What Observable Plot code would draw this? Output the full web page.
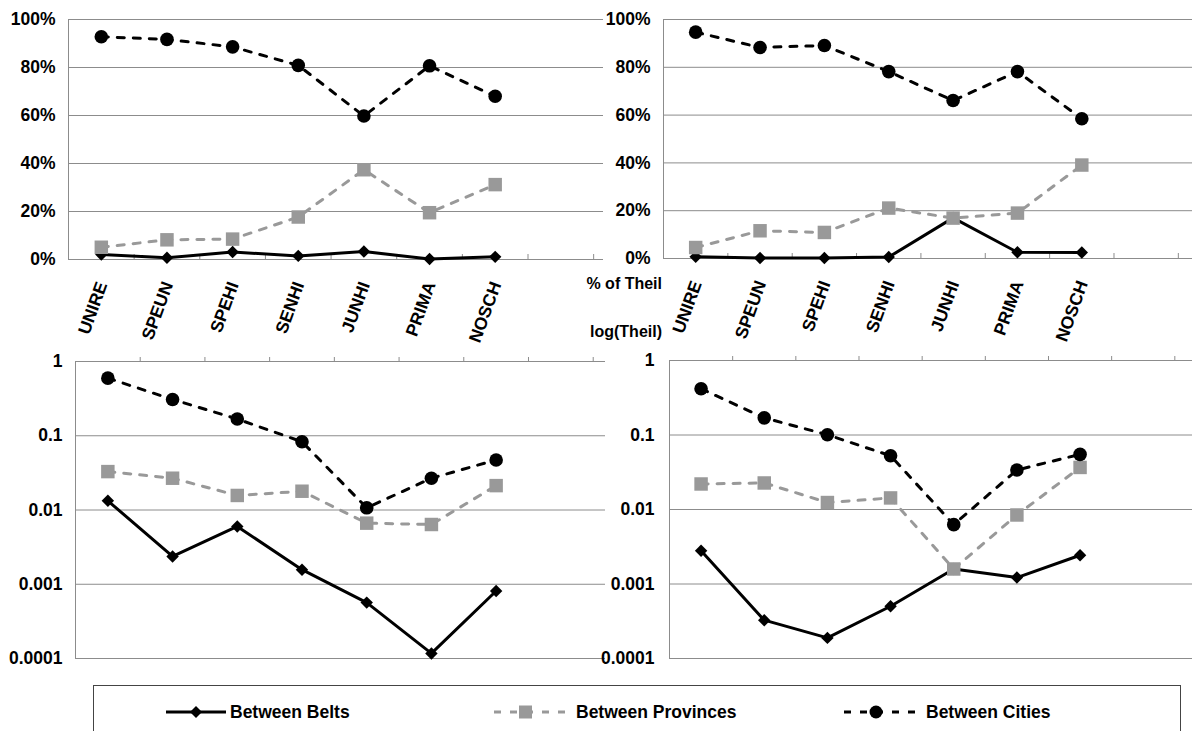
<!DOCTYPE html>
<html><head><meta charset="utf-8">
<script src="https://cdn.jsdelivr.net/npm/d3@7"></script>
<script src="https://cdn.jsdelivr.net/npm/@observablehq/plot@0.6"></script>
<style>
body{margin:0;background:#fff;font-family:"Liberation Sans",Arial,sans-serif;}
#wrap{position:relative;width:1192px;height:731px;overflow:hidden;background:#fff;}
.panel{position:absolute;}
.lab{position:absolute;font-weight:bold;font-size:16px;color:#000;text-align:right;white-space:nowrap;}
#legend{position:absolute;left:93px;top:685px;width:1088px;height:60px;border:1px solid #444;border-bottom:none;box-sizing:border-box;}
.item{position:absolute;top:0;height:52px;display:flex;align-items:center;font-weight:bold;font-size:17.5px;white-space:nowrap;}
</style></head><body><div id="wrap"></div>
<script>
const categories = ["UNIRE","SPEUN","SPEHI","SENHI","JUNHI","PRIMA","NOSCH"];
const seriesNames = ["Between Belts","Between Provinces","Between Cities"];
// % of Theil (top panels)
const pctLeftBelts = [2.1,0.7,3.1,1.5,3.3,0.2,1.1];
const pctLeftProvinces = [5.1,8.2,8.5,17.7,37.4,19.5,31.2];
const pctLeftCities = [92.8,91.7,88.6,80.9,59.8,80.7,68.0];
const pctRightBelts = [0.7,0.2,0.2,0.6,17.0,2.6,2.5];
const pctRightProvinces = [4.6,11.6,10.9,21.1,16.9,19.0,39.1];
const pctRightCities = [94.7,88.3,89.1,78.2,66.1,78.2,58.5];
// log(Theil) (bottom panels)
const logLeftBelts = [0.0133,0.00237,0.0060,0.00157,0.000566,0.000117,0.00081];
const logLeftProvinces = [0.0329,0.0268,0.0157,0.0179,0.00665,0.00638,0.0213];
const logLeftCities = [0.597,0.308,0.168,0.083,0.0107,0.0268,0.0472];
const logRightBelts = [0.0028,0.000327,0.000189,0.000503,0.00159,0.00122,0.00243];
const logRightProvinces = [0.022,0.0227,0.0124,0.0143,0.00159,0.00844,0.0367];
const logRightCities = [0.417,0.170,0.1007,0.0527,0.00626,0.0339,0.055];
const pctTicks = [0,20,40,60,80,100];
const pctTickLabels = ["0%","20%","40%","60%","80%","100%"];
const logTicks = [0.0001,0.001,0.01,0.1,1];
const logTickLabels = ["0.0001","0.001","0.01","0.1","1"];

const styles = [
  {stroke:"#000", dash:null, symbol:"diamond2", r:5.6, fill:"#000"},
  {stroke:"#999", dash:"7,9", symbol:"square", r:7.6, fill:"#999"},
  {stroke:"#000", dash:"7,9", symbol:"circle", r:6.8, fill:"#000"}
];
const boundaries = [0.5,1.5,2.5,3.5,4.5,5.5,6.5,7.5];

const wrap = document.getElementById("wrap");

function panel(o){
  const isLog = o.log;
  const ticks = isLog ? logTicks : pctTicks;
  const labels = isLog ? logTickLabels : pctTickLabels;
  const marks = [];
  marks.push(Plot.ruleY(ticks, {stroke:"#8c8c8c", strokeWidth:1}));
  marks.push(Plot.ruleX([-0.5], {stroke:"#8c8c8c", strokeWidth:1}));
  marks.push(Plot.axisY({ticks, tickSize:0, tickPadding:o.pad, label:null, tickFormat:(d)=>labels[ticks.indexOf(d)], fill:"#000"}));
  if (o.topAxis) {
    marks.push(Plot.axisX({anchor:"top", ticks:boundaries.filter(b=>b<o.xmax), tickSize:5, label:null, tickFormat:()=>"", stroke:"#8c8c8c"}));
  } else {
    marks.push(Plot.axisX({anchor:"bottom", ticks:boundaries.filter(b=>b<o.xmax), tickSize:5, dy:-5, label:null, tickFormat:()=>"", stroke:"#8c8c8c"}));
    marks.push(Plot.text(categories.map((c,i)=>({c,i})), {x:"i", frameAnchor:"bottom", text:"c", rotate:-70, textAnchor:"end", lineAnchor:"middle", dy:23, dx:1, fontSize:17.5, fontWeight:"bold", fill:"#000"}));
  }
  o.series.forEach((vals, k) => {
    const st = styles[k];
    const data = vals.map((v,i)=>({i, v}));
    marks.push(Plot.line(data, {x:"i", y:"v", stroke:st.stroke, strokeWidth:3, strokeDasharray:st.dash, strokeLinejoin:"round"}));
    marks.push(Plot.dot(data, {x:"i", y:"v", symbol:st.symbol, r:st.r, fill:st.fill, stroke:"none"}));
  });
  const chart = Plot.plot({
    width:o.width, height:o.height,
    marginLeft:o.ml, marginRight:o.mr, marginTop:o.mt, marginBottom:o.mb,
    x:{domain:[-0.5, o.xmax], label:null},
    y: isLog ? {type:"log", domain:[0.0001,1], label:null} : {domain:[0,100], label:null},
    style:{background:"transparent", fontFamily:"'Liberation Sans', Arial, sans-serif", fontSize:"17.5px", fontWeight:"bold", overflow:"visible"},
    marks
  });
  chart.classList.add("panel");
  chart.style.left = o.left + "px";
  chart.style.top = o.top + "px";
  wrap.appendChild(chart);
}

panel({series:[pctLeftBelts,pctLeftProvinces,pctLeftCities], log:false, left:0, top:0, width:610, height:350, ml:68, mr:7, mt:19, mb:91, xmax:7.65, pad:13});
panel({series:[pctRightBelts,pctRightProvinces,pctRightCities], log:false, left:590, top:0, width:602, height:350, ml:73, mr:0, mt:19, mb:92, xmax:7.72, pad:13});
panel({series:[logLeftBelts,logLeftProvinces,logLeftCities], log:true, left:0, top:340, width:610, height:330, ml:75, mr:5, mt:21, mb:12, xmax:7.69, pad:13, topAxis:true});
panel({series:[logRightBelts,logRightProvinces,logRightCities], log:true, left:590, top:340, width:602, height:330, ml:79, mr:0, mt:20, mb:12, xmax:7.78, pad:15, topAxis:true});

// side labels
const l1 = document.createElement("div"); l1.className="lab"; l1.textContent="% of Theil";
l1.style.left="560px"; l1.style.width="102px"; l1.style.top="275px"; wrap.appendChild(l1);
const l2 = document.createElement("div"); l2.className="lab"; l2.textContent="log(Theil)";
l2.style.left="560px"; l2.style.width="102px"; l2.style.top="323px"; wrap.appendChild(l2);

// legend
const legend = document.createElement("div"); legend.id="legend"; wrap.appendChild(legend);
const items = [
  {left:70, svg:`<svg width="64" height="16"><line x1="2" y1="8" x2="62" y2="8" stroke="#000" stroke-width="3"/><path d="M32,2 L38,8 L32,14 L26,8 Z" fill="#000"/></svg>`},
  {left:392, svg:`<svg width="80" height="16"><line x1="0" y1="8" x2="80" y2="8" stroke="#999" stroke-width="3" stroke-dasharray="7,9" stroke-dashoffset="-8"/><rect x="33" y="1.5" width="13" height="13" fill="#999"/></svg>`},
  {left:742, svg:`<svg width="80" height="16"><line x1="0" y1="8" x2="80" y2="8" stroke="#000" stroke-width="3" stroke-dasharray="7,9" stroke-dashoffset="-8"/><circle cx="40" cy="8" r="6.5" fill="#000"/></svg>`}
];
items.forEach((it,k)=>{
  const d = document.createElement("div"); d.className="item"; d.style.left = it.left+"px";
  d.innerHTML = it.svg + `<span style="margin-left:${k===0?2:10}px">${seriesNames[k]}</span>`;
  legend.appendChild(d);
});
</script></body></html>
